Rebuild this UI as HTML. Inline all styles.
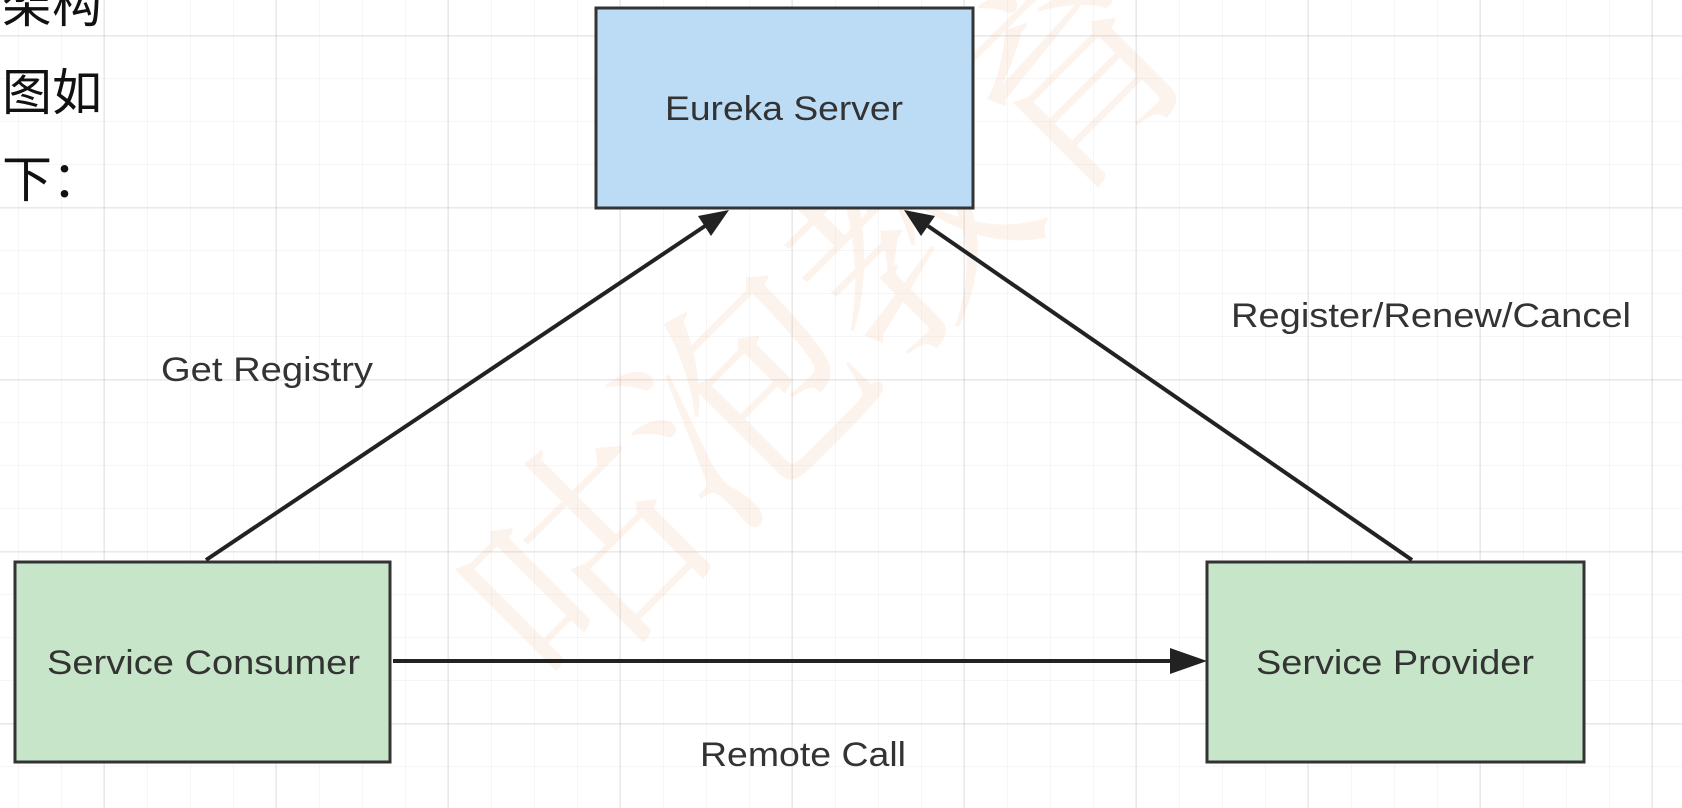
<!DOCTYPE html>
<html><head><meta charset="utf-8"><style>
html,body{margin:0;padding:0;}
body{width:1682px;height:808px;overflow:hidden;position:relative;background:#fff;
background-image:
linear-gradient(to right, rgba(0,0,0,0.05) 2px, transparent 2px),
linear-gradient(to bottom, rgba(0,0,0,0.05) 2px, transparent 2px),
linear-gradient(to right, rgba(0,0,0,0.035) 1px, transparent 1px),
linear-gradient(to bottom, rgba(0,0,0,0.035) 1px, transparent 1px);
background-size:172px 172px,172px 172px,43px 43px,43px 43px;
background-position:103px 35px,103px 35px,18px 35px,18px 35px;
font-family:"Liberation Sans","Noto Sans CJK SC",sans-serif;}
.cn{position:absolute;left:2px;font-size:50px;line-height:50px;color:#111;font-family:"Noto Sans CJK SC",sans-serif;}
</style></head><body>
<div class="cn" style="top:-24px">架构</div>
<div class="cn" style="top:64px">图如</div>
<div class="cn" style="top:151px">下：</div>
<svg width="1682" height="808" style="position:absolute;left:0;top:0">
<g fill="#f6a070" opacity="0.12" font-family="Noto Serif CJK SC,serif" font-size="230">
<text transform="translate(560,700) rotate(-45)">咕泡教育</text>
</g>
<rect x="596" y="8" width="377" height="200" fill="#bcdcf6" stroke="#333" stroke-width="3"/>
<rect x="15" y="562" width="375" height="200" fill="#c7e5c8" stroke="#333" stroke-width="3"/>
<rect x="1207" y="562" width="377" height="200" fill="#c7e5c8" stroke="#333" stroke-width="3"/>
<g stroke="#222" stroke-width="4">
<line x1="206" y1="560" x2="705" y2="226"/>
<line x1="1412" y1="560" x2="928" y2="226"/>
<line x1="393" y1="661" x2="1172" y2="661"/>
</g>
<g fill="#222">
<polygon points="729,210 711,236 698,216"/>
<polygon points="904,210 935,216 921,236"/>
<polygon points="1207,661 1170,648 1170,674"/>
</g>
<g font-size="34" fill="#333" font-family="Liberation Sans,sans-serif" lengthAdjust="spacingAndGlyphs">
<text x="665" y="120" textLength="238" lengthAdjust="spacingAndGlyphs">Eureka Server</text>
<text x="47" y="674" textLength="313" lengthAdjust="spacingAndGlyphs">Service Consumer</text>
<text x="1256" y="674" textLength="278" lengthAdjust="spacingAndGlyphs">Service Provider</text>
<text x="161" y="381" textLength="212" lengthAdjust="spacingAndGlyphs">Get Registry</text>
<text x="1231" y="327" textLength="400" lengthAdjust="spacingAndGlyphs">Register/Renew/Cancel</text>
<text x="700" y="766" textLength="206" lengthAdjust="spacingAndGlyphs">Remote Call</text>
</g>
</svg>
</body></html>
